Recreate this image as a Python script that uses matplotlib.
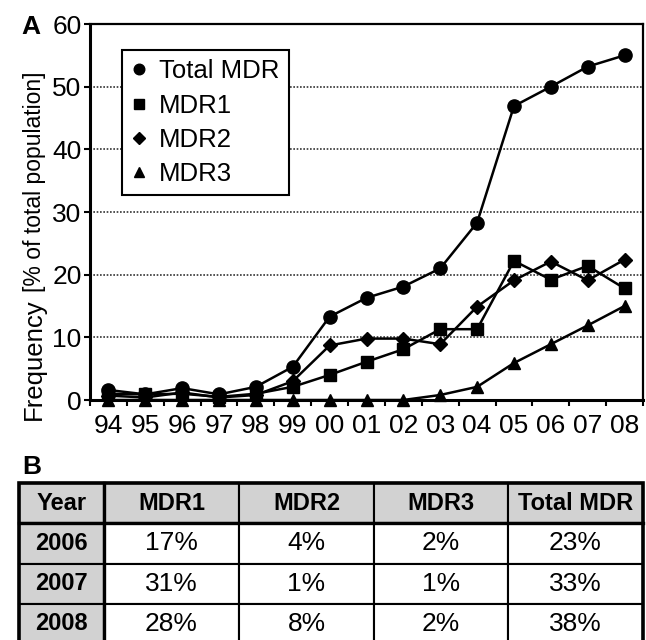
import matplotlib
matplotlib.use("Agg")
import matplotlib.pyplot as plt
from matplotlib.lines import Line2D
from matplotlib.patches import Rectangle
import numpy as np

# data
years = ["94", "95", "96", "97", "98", "99", "00", "01", "02", "03", "04", "05", "06", "07", "08"]
total_mdr = [1.6, 0.9, 1.9, 0.9, 2.1, 5.3, 13.3, 16.3, 18.1, 21.0, 28.3, 46.9, 50.0, 53.2, 55.0]
mdr1 = [1.0, 0.9, 1.0, 0.5, 1.0, 2.1, 4.0, 6.1, 8.1, 11.3, 11.3, 22.2, 19.2, 21.4, 17.8]
mdr2 = [0.7, 0.4, 1.2, 0.4, 0.8, 3.0, 8.7, 9.8, 9.8, 8.9, 14.9, 19.1, 22.1, 19.1, 22.4]
mdr3 = [0, 0, 0, 0, 0, 0, 0, 0, 0, 0.8, 2.1, 5.9, 8.9, 11.9, 15.0]

table_cols = ["Year", "MDR1", "MDR2", "MDR3", "Total MDR"]
table_years = ["2006", "2007", "2008"]
table_mdr1 = ["17%", "31%", "28%"]
table_mdr2 = ["4%", "1%", "8%"]
table_mdr3 = ["2%", "1%", "2%"]
table_total = ["23%", "33%", "38%"]

plt.rcParams['font.family'] = ['Liberation Sans', 'DejaVu Sans']

fig = plt.figure(figsize=(6.46, 6.40), dpi=100)
ax = fig.add_axes([90 / 646, 240 / 640, 553 / 646, 376 / 640])

x = np.arange(len(years))
series = [
    ("MDR3", mdr3, "^", 9),
    ("MDR2", mdr2, "D", 7.5),
    ("MDR1", mdr1, "s", 8.5),
    ("Total MDR", total_mdr, "o", 9.5),
]
for name, vals, mk, ms in series:
    ax.plot(x, vals, color="black", lw=1.8, marker=mk, ms=ms, clip_on=False, zorder=3)

ax.set_xlim(-0.5, len(years) - 0.5)
ax.set_ylim(0, 60)
ax.set_yticks(range(0, 61, 10))
ax.set_xticks(x)
ax.set_xticklabels(years)
ax.set_xticks(np.arange(-0.5, len(years), 1.0), minor=True)
ax.tick_params(axis="x", which="major", length=0, pad=10, labelsize=19)
ax.tick_params(axis="x", which="minor", length=4.5, width=1.5, direction="out")
ax.tick_params(axis="y", length=4.5, width=1.5, pad=1.5, labelsize=19)
ax.yaxis.grid(True, linestyle=(0, (1, 1)), color="#333333", lw=1.2)
ax.set_axisbelow(True)
for s in ["top", "right"]:
    ax.spines[s].set_linewidth(1.6)
for s in ["left", "bottom"]:
    ax.spines[s].set_linewidth(2.2)

handles = [Line2D([], [], color="black", ls="none", marker=mk, ms=ms * 0.8, label=name)
           for name, vals, mk, ms in reversed(series)]
leg = ax.legend(handles=handles, loc="upper left", bbox_to_anchor=(0.058, 0.93),
                fontsize=18.5, frameon=True, fancybox=False, framealpha=1,
                edgecolor="black", handlelength=0.6, handletextpad=0.5,
                borderpad=0.35, labelspacing=0.4, borderaxespad=0)
leg.get_frame().set_linewidth(1.5)
leg.set_zorder(5)

# y label: two sizes, second part placed after the first
ylab = fig.text(41 / 646, 1 - 420 / 640, "Frequency", rotation=90, rotation_mode="anchor",
                ha="left", va="baseline", fontsize=18.5)
fig.canvas.draw()
top_px = ylab.get_window_extent().y1
fig.text(41 / 646, (top_px + 6) / 640, "[% of total population]", rotation=90,
         rotation_mode="anchor", ha="left", va="baseline", fontsize=16.5)

fig.text(21 / 646, 1 - 27 / 640, "A", fontsize=19, fontweight="bold", va="center", ha="left")
fig.text(22 / 646, 1 - 467 / 640, "B", fontsize=19, fontweight="bold", va="center", ha="left")

# table
tax = fig.add_axes([0, 0, 1, 1])
tax.set_xlim(0, 1)
tax.set_ylim(0, 1)
tax.axis("off")

rows = [list(r) for r in zip(table_years, table_mdr1, table_mdr2, table_mdr3, table_total)]
col_w = [85, 135, 135, 134, 135]
tot_w = sum(col_w)
bx, by, bw, bh = 19 / 646, -4 / 640, 624 / 646, 161 / 640
tbl = tax.table(cellText=rows, colLabels=table_cols, colWidths=[w / tot_w for w in col_w],
                cellLoc="center", bbox=[bx, by, bw, bh])
tbl.auto_set_font_size(False)
for (r, c), cell in tbl.get_celld().items():
    cell.set_linewidth(1.5)
    cell.set_edgecolor("black")
    txt = cell.get_text()
    if r == 0 or c == 0:
        cell.set_facecolor("#d2d2d2")
        txt.set_fontweight("bold")
        txt.set_fontsize(17)
    else:
        cell.set_facecolor("white")
        txt.set_fontsize(19)

# heavier outer frame and separators
tax.add_patch(Rectangle((bx, by), bw, bh, fill=False, lw=2.6, ec="black", zorder=10))
hy = by + bh * 3 / 4
tax.plot([bx, bx + bw], [hy, hy], color="black", lw=2.4, zorder=10)
vx = bx + bw * col_w[0] / tot_w
tax.plot([vx, vx], [by, by + bh], color="black", lw=2.4, zorder=10)

fig.savefig("out.png", dpi=100)
